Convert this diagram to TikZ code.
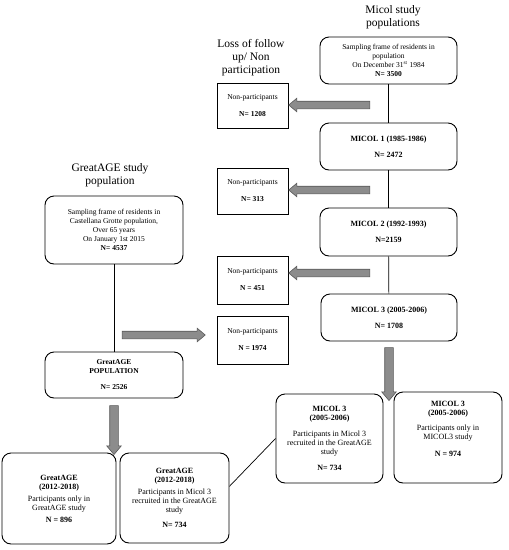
\documentclass[tikz,border=0pt]{standalone}
\usepackage{fontspec}
\setmainfont{Liberation Serif}
\usetikzlibrary{shapes.arrows,calc}
\begin{document}
\begin{tikzpicture}[x=1pt,y=-1pt,
    title/.style={align=center,font=\fontsize{11.5}{13}\selectfont},
    roundbox/.style={draw,line width=0.9pt,rounded corners=9pt,align=center,
        inner sep=1pt,font=\fontsize{7.5}{9}\selectfont},
    lossbox/.style={draw,line width=0.9pt,align=center,inner sep=1pt,
        minimum width=71pt,font=\fontsize{7.5}{9}\selectfont},
    blockarrow/.style={single arrow,draw=black!65,fill=black!45,line width=0.6pt,
        minimum width=13pt,single arrow head extend=3pt,single arrow tip angle=80,
        inner xsep=0pt,inner ysep=3.5pt},
    downarrow/.style={blockarrow,shape border rotate=270,inner xsep=4pt,inner ysep=0pt,
        minimum width=0pt}]
    \useasboundingbox (0,0) rectangle (509,550);
    % column titles
    \node [title] (tmicol) at (393,17) {Micol study\\populations};
    \node [title] (tloss) at (251,58) {Loss of follow\\up/ Non\\participation};
    \node [title] (tgreat) at (110,175) {GreatAGE study\\population};
    % Micol column
    \node [roundbox,minimum width=137pt,minimum height=47pt] (msamp) at (388.5,60.5)
        {Sampling frame of residents in\\population\\On December 31\textsuperscript{st} 1984\\\textbf{N= 3500}};
    \node [roundbox,minimum width=137pt,minimum height=47pt,font=\fontsize{8}{9}\selectfont] (micol1) at (388.5,146.5)
        {\textbf{MICOL 1 (1985-1986)}\\[7pt]\textbf{N= 2472}};
    \node [roundbox,minimum width=137pt,minimum height=48pt,font=\fontsize{8}{9}\selectfont] (micol2) at (388.5,232)
        {\textbf{MICOL 2 (1992-1993)}\\[7pt]\textbf{N=2159}};
    \node [roundbox,minimum width=136pt,minimum height=47pt,font=\fontsize{8}{9}\selectfont] (micol3) at (389,317.5)
        {\textbf{MICOL 3 (2005-2006)}\\[7pt]\textbf{N= 1708}};
    % non participants
    \node [lossbox,minimum height=45pt] (np1) at (252.5,105.5) {Non-participants\\[8pt]\textbf{N= 1208}};
    \node [lossbox,minimum height=46pt] (np2) at (252.5,191) {Non-participants\\[8pt]\textbf{N= 313}};
    \node [lossbox,minimum height=48pt] (np3) at (252.5,280) {Non-participants\\[8pt]\textbf{N = 451}};
    \node [lossbox,minimum height=48pt] (np4) at (252.5,340) {Non-participants\\[8pt]\textbf{N = 1974}};
    % GreatAGE column
    \node [roundbox,minimum width=138pt,minimum height=68pt] (gsamp) at (114,230)
        {Sampling frame of residents in\\Castellana Grotte population,\\Over 65 years\\On January 1st 2015\\\textbf{N= 4537}};
    \node [roundbox,minimum width=138pt,minimum height=46pt] (gpop) at (114,375)
        {\textbf{GreatAGE}\\\textbf{POPULATION}\\[7pt]\textbf{N= 2526}};
    % final groups
    \node [roundbox,minimum width=114pt,minimum height=91pt,font=\fontsize{8}{9}\selectfont] (gonly) at (59,498.5)
        {\textbf{GreatAGE}\\\textbf{(2012-2018)}\\[3pt]Participants only in\\GreatAGE study\\[3pt]\textbf{N = 896}};
    \node [roundbox,minimum width=109pt,minimum height=90pt,font=\fontsize{8}{9}\selectfont] (gmicol) at (174.5,498)
        {\textbf{GreatAGE}\\\textbf{(2012-2018)}\\[3pt]Participants in Micol 3\\recruited in the GreatAGE\\study\\[6pt]\textbf{N= 734}};
    \node [roundbox,minimum width=107pt,minimum height=89pt,font=\fontsize{8}{9}\selectfont] (m3rec) at (329.5,438.5)
        {\textbf{MICOL 3}\\\textbf{(2005-2006)}\\[7pt]Participants in Micol 3\\recruited in the GreatAGE\\study\\[7pt]\textbf{N= 734}};
    \node [roundbox,minimum width=108pt,minimum height=91pt,font=\fontsize{8}{9}\selectfont] (m3only) at (448,437.5)
        {\textbf{MICOL 3}\\\textbf{(2005-2006)}\\[6pt]Participants only in\\MICOL3 study\\[8pt]\textbf{N = 974}\\[8pt]};
    % connectors
    \draw [line width=0.7pt] (msamp) -- (micol1);
    \draw [line width=0.7pt] (micol1) -- (micol2);
    \draw [line width=0.7pt] (micol2) -- (micol3);
    \draw [line width=0.7pt] (gsamp) -- (gpop);
    \draw [line width=0.7pt] (gmicol.12) -- (m3rec.west);
    % block arrows
    \node [blockarrow,minimum height=81pt,shape border rotate=180] (a1) at (331.5,105) {};
    \node [blockarrow,minimum height=81pt,shape border rotate=180] (a2) at (331.5,190) {};
    \node [blockarrow,minimum height=81pt,shape border rotate=180] (a3) at (331.5,273) {};
    \node [blockarrow,minimum height=83pt] (a4) at (161.5,335) {};
    \node [downarrow,minimum height=53pt] (a5) at (389,371.5) {};
    \node [downarrow,minimum height=49pt] (a6) at (114,427.5) {};
\end{tikzpicture}
\end{document}
